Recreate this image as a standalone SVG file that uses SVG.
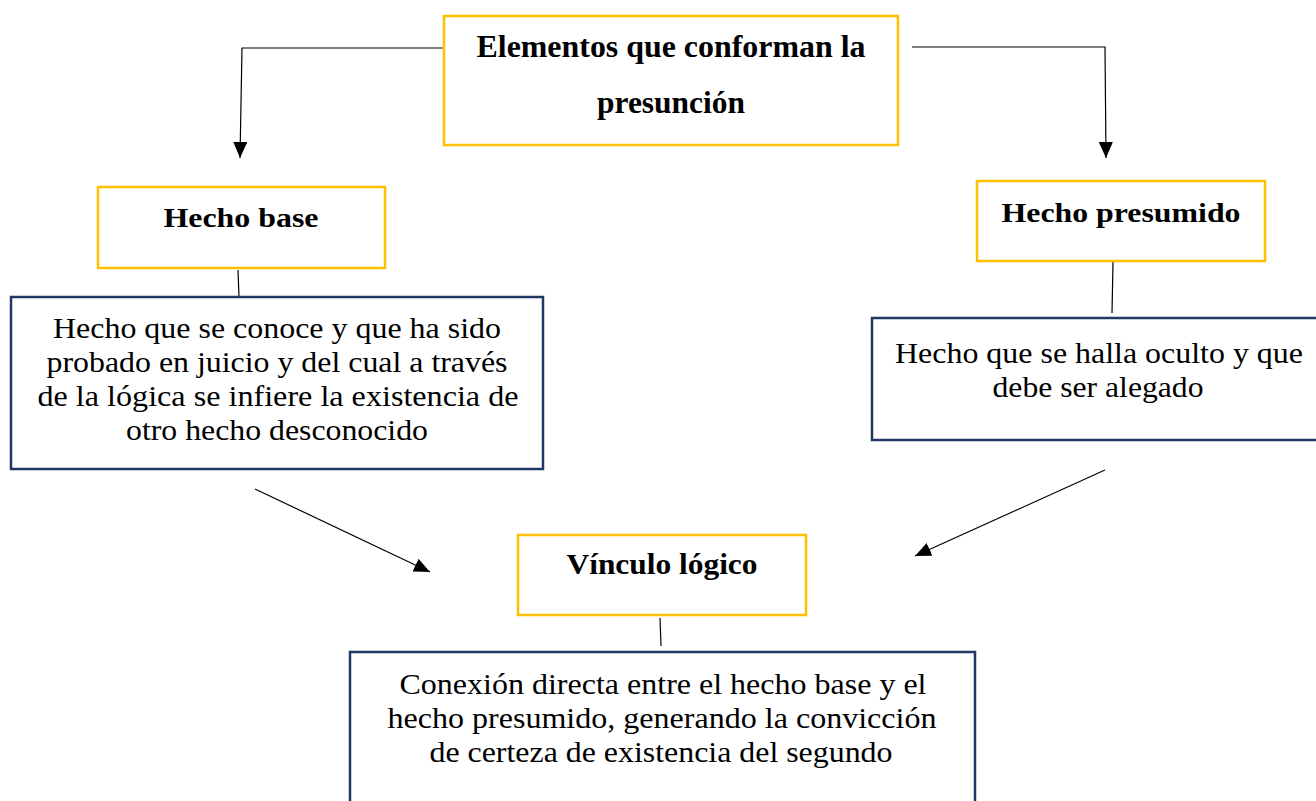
<svg xmlns="http://www.w3.org/2000/svg" width="1316" height="801" viewBox="0 0 1316 801">
<defs>
<marker id="arr" viewBox="0 0 16 14" refX="16" refY="7" markerWidth="16" markerHeight="14" markerUnits="userSpaceOnUse" orient="auto">
<path d="M0,0 L16,7 L0,14 Z" fill="#000"/>
</marker>
<style>
.y{fill:#fff;stroke:#FFC000;stroke-width:2.5}
.b{fill:#fff;stroke:#1F3864;stroke-width:2.5}
text{font-family:"Liberation Serif","Times New Roman",Times,serif;fill:#000;text-anchor:middle}
.h{font-weight:bold}
.c{fill:none;stroke:#000;stroke-width:1.2}
</style>
</defs>
<rect width="1316" height="801" fill="#fff"/>
<g id="connectors">
<path class="c" d="M444,48 L242,48 L240,158" marker-end="url(#arr)"/>
<path class="c" d="M912,47 L1105,47 L1106,158" marker-end="url(#arr)"/>
<path class="c" d="M238,270 L239,297"/>
<path class="c" d="M1113,262 L1112,313"/>
<path class="c" d="M660,618 L661,646"/>
<path class="c" d="M255,489 L430,572" marker-end="url(#arr)"/>
<path class="c" d="M1105,470 L915,556" marker-end="url(#arr)"/>
</g>
<g id="n-top">
<rect class="y" x="444" y="16" width="454" height="129"/>
<text class="h" x="671" y="57" font-size="32" textLength="389" lengthAdjust="spacingAndGlyphs">Elementos que conforman la</text>
<text class="h" x="671" y="113" font-size="32" textLength="148" lengthAdjust="spacingAndGlyphs">presunción</text>
</g>
<g id="n-base">
<rect class="y" x="98" y="187" width="287" height="81"/>
<text class="h" x="241" y="227" font-size="28" textLength="155" lengthAdjust="spacingAndGlyphs">Hecho base</text>
</g>
<g id="n-base-desc" font-size="29">
<rect class="b" x="11" y="297" width="532" height="172"/>
<text x="277" y="338" textLength="448" lengthAdjust="spacingAndGlyphs">Hecho que se conoce y que ha sido</text>
<text x="277" y="372" textLength="461" lengthAdjust="spacingAndGlyphs">probado en juicio y del cual a través</text>
<text x="278" y="406" textLength="481" lengthAdjust="spacingAndGlyphs">de la lógica se infiere la existencia de</text>
<text x="277" y="440" textLength="302" lengthAdjust="spacingAndGlyphs">otro hecho desconocido</text>
</g>
<g id="n-presumido">
<rect class="y" x="977" y="181" width="288" height="80"/>
<text class="h" x="1121" y="222" font-size="28" textLength="239" lengthAdjust="spacingAndGlyphs">Hecho presumido</text>
</g>
<g id="n-presumido-desc" font-size="29">
<rect class="b" x="872" y="318" width="450" height="122"/>
<text x="1099" y="363" textLength="408" lengthAdjust="spacingAndGlyphs">Hecho que se halla oculto y que</text>
<text x="1098" y="397" textLength="211" lengthAdjust="spacingAndGlyphs">debe ser alegado</text>
</g>
<g id="n-vinculo">
<rect class="y" x="518" y="535" width="288" height="80"/>
<text class="h" x="662" y="574" font-size="30" textLength="191" lengthAdjust="spacingAndGlyphs">Vínculo lógico</text>
</g>
<g id="n-vinculo-desc" font-size="30">
<rect class="b" x="350" y="652" width="625" height="160"/>
<text x="663" y="694" textLength="527" lengthAdjust="spacingAndGlyphs">Conexión directa entre el hecho base y el</text>
<text x="662" y="728" textLength="549" lengthAdjust="spacingAndGlyphs">hecho presumido, generando la convicción</text>
<text x="661" y="762" textLength="463" lengthAdjust="spacingAndGlyphs">de certeza de existencia del segundo</text>
</g>
</svg>
